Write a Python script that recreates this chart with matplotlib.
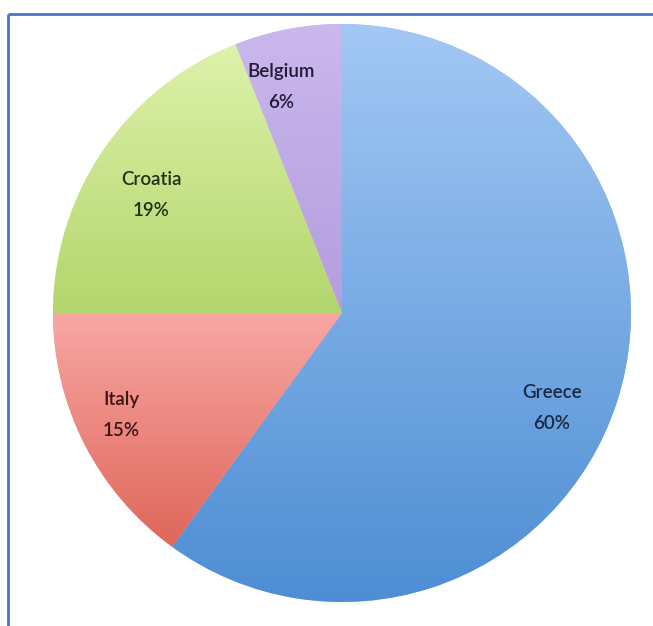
import numpy as np
import matplotlib.pyplot as plt
from matplotlib.colors import LinearSegmentedColormap

# slice data, clockwise from 12 o'clock
countries = ["Greece", "Italy", "Croatia", "Belgium"]
shares = [60, 15, 19, 6]
top_colors = ["#a3c8f5", "#f8a7a4", "#def2ab", "#cbb8ec"]
bottom_colors = ["#4d8dd3", "#df6659", "#b3d56c", "#b39ddf"]
text_colors = ["#1b2a44", "#3a1616", "#1f3312", "#221a38"]
label_pos = [(552, 408), (121, 415), (151, 195), (281, 87)]

W, H = 653, 626
fig = plt.figure(figsize=(W / 100, H / 100), dpi=100)
ax = fig.add_axes([0, 0, 1, 1])

cx, cy, r = 342, H - 313, 289
wedges, _ = ax.pie(shares, startangle=90, counterclock=False,
                   center=(cx, cy), radius=r, frame=True,
                   wedgeprops=dict(linewidth=0))

# vertical gradient fill inside each slice
for w, c_top, c_bot in zip(wedges, top_colors, bottom_colors):
    verts = w.get_patch_transform().transform(w.get_path().vertices)
    x0, x1 = verts[:, 0].min(), verts[:, 0].max()
    y0, y1 = verts[:, 1].min(), verts[:, 1].max()
    cmap = LinearSegmentedColormap.from_list("g", [c_bot, c_top])
    grad = np.linspace(0, 1, 256).reshape(-1, 1)
    w.set_facecolor(c_top)
    im = ax.imshow(grad, cmap=cmap, origin="lower", aspect="auto",
                   extent=(x0 - 2, x1 + 2, y0 - 2, y1 + 2), zorder=2,
                   interpolation="bilinear")
    im.set_clip_path(w)
ax.set_xlim(0, W)
ax.set_ylim(0, H)
ax.set_aspect("equal")
ax.axis("off")

for name, val, col, (lx, ly) in zip(countries, shares, text_colors, label_pos):
    ax.text(lx, H - ly, "{0}\n{1}%".format(name, val), ha="center", va="center",
            fontsize=13.5, color=col, family="Lato", fontweight="semibold",
            linespacing=1.95, zorder=5)

# blue frame on top and left edges
ax.plot([8, W], [H - 14, H - 14], color="#4a74c6", lw=2, zorder=6,
        solid_capstyle="butt")
ax.plot([8, 8], [H - 14, 0], color="#4a74c6", lw=2, zorder=6,
        solid_capstyle="butt")

fig.savefig("out.png", dpi=100, facecolor="white")
